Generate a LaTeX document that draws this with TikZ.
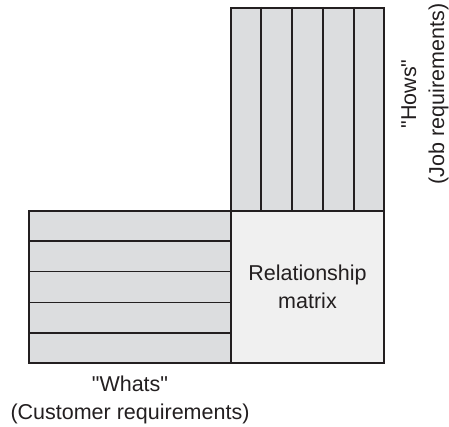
\documentclass[tikz,border=0pt]{standalone}
\usepackage{fontspec}
\setmainfont{Liberation Sans}[Ligatures=TeXOff]
\usetikzlibrary{positioning,calc}

\definecolor{stripgray}{RGB}{220,221,223}
\definecolor{matrixgray}{RGB}{240,240,240}
\definecolor{edgegray}{RGB}{35,31,32}

\tikzset{
    block/.style={draw=edgegray,line width=2pt,inner sep=0pt,anchor=north west},
    divider/.style={draw=edgegray,line width=1.6pt},
    caption/.style={font=\fontsize{21.5}{28}\selectfont,align=center,text=edgegray}
}

\begin{document}
\begin{tikzpicture}[x=1pt,y=-1pt]
    \useasboundingbox (0,0) rectangle (449,427);

    % hows: the columns on top
    \node[block,fill=stripgray,minimum width=153pt,minimum height=203pt] (hows) at (230,7) {};
    \foreach \i in {1,...,4}
        \draw[divider] ($(hows.north west)!\i/5!(hows.north east)$) -- ($(hows.south west)!\i/5!(hows.south east)$);

    % whats: the rows on the left
    \node[block,fill=stripgray,minimum width=202pt,minimum height=152pt] (whats) at (28,210) {};
    \foreach \i in {1,...,4}
        \draw[divider] ($(whats.north west)!\i/5!(whats.south west)$) -- ($(whats.north east)!\i/5!(whats.south east)$);

    % relationship matrix
    \node[block,fill=matrixgray,minimum width=153pt,minimum height=152pt,caption] (rel) at (230,210) {Relationship\\matrix};

    % labels
    \node[caption,below=8pt of whats] (whatslabel) {"Whats"\\(Customer requirements)};
    \node[caption,rotate=90] (howslabel) at (425,94) {"Hows"\\(Job requirements)};
\end{tikzpicture}
\end{document}
